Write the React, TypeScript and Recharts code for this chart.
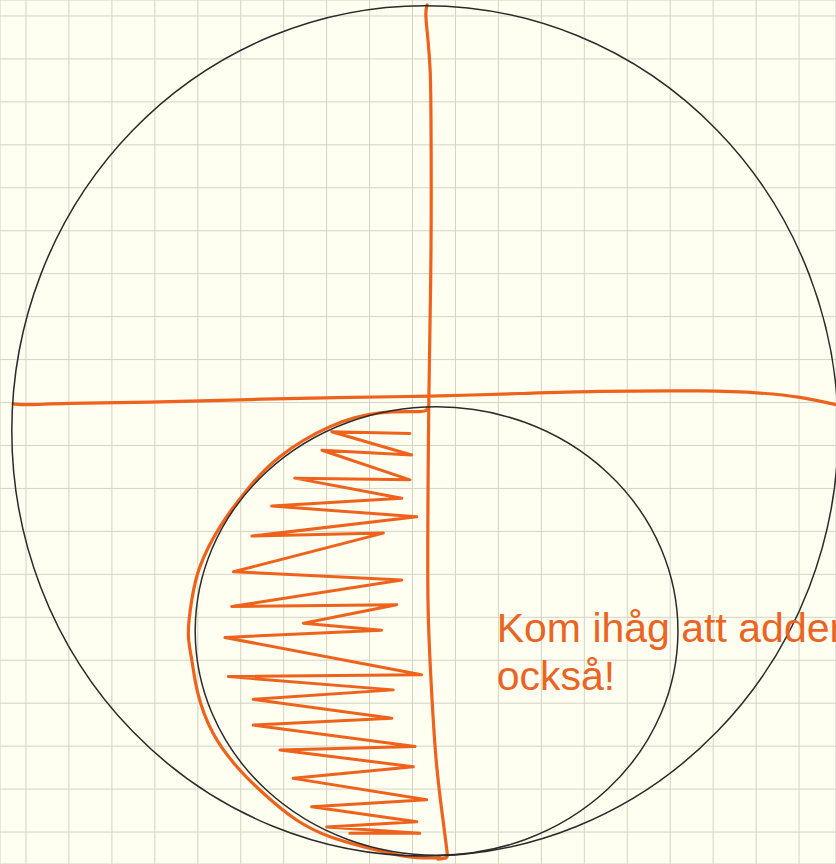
import React from 'react';
import {
  CartesianGrid,
  ComposedChart,
  Line,
  ReferenceDot,
  Scatter,
  XAxis,
  YAxis,
} from 'recharts';

// coordinates are in squares of the paper grid, y grows downwards
const W = 836;
const H = 864;
const X_MIN = -0.605;
const X_MAX = 18.86;
const Y_MIN = -0.372;
const Y_MAX = 19.744;

const gridX = [0, 1, 2, 3, 4, 5, 6, 7, 8, 9, 10, 11, 12, 13, 14, 15, 16, 17, 18];
const gridY = [0, 1, 2, 3, 4, 5, 6, 7, 8, 9, 10, 11, 12, 13, 14, 15, 16, 17, 18, 19];

// two drawn circles: centre and radii
const ringX = [9.29, 9.56];
const ringY = [9.66, 14.32];
const ringRx = [9.62, 5.62];
const ringRy = [9.9, 5.22];

const upright: [number, number][] = [
  [9.34, -0.26], [9.31, -0.02], [9.36, 0.56], [9.41, 1.26], [9.43, 2.42],
  [9.43, 5.45], [9.38, 8.94], [9.36, 11.27], [9.36, 13.6], [9.43, 15.46],
  [9.55, 17.32], [9.71, 18.72], [9.8, 19.42], [9.78, 19.6], [9.59, 19.63],
];

const across: [number, number][] = [
  [-0.3, 9.03], [0.09, 9.05], [1.02, 9.02], [2.89, 8.99], [5.22, 8.93],
  [7.54, 8.88], [9.41, 8.85], [11.5, 8.79], [13.36, 8.74], [15.69, 8.73],
  [17.09, 8.78], [18.02, 8.88], [18.86, 9.05],
];

const halfMoon: [number, number][] = [
  [9.34, 9.13], [9.17, 9.21], [8.24, 9.24], [7.08, 9.56], [5.91, 10.26],
  [5.14, 11.04], [4.52, 11.89], [4.05, 12.82], [3.86, 13.6], [3.78, 14.37],
  [3.86, 14.99], [4.0, 15.76], [4.35, 16.69], [4.91, 17.48], [5.52, 18.09],
  [6.3, 18.72], [7.08, 19.11], [7.85, 19.34], [8.86, 19.57], [9.64, 19.6],
];

const scribble: [number, number][] = [
  [8.94, 9.72], [7.12, 9.68], [8.98, 10.22], [6.89, 10.11], [8.94, 10.8],
  [6.26, 10.76], [8.75, 11.23], [5.72, 11.41], [9.1, 11.66], [5.26, 12.11],
  [8.32, 12.04], [4.83, 12.94], [8.75, 13.13], [4.79, 13.75], [8.63, 13.71],
  [6.46, 14.14], [8.28, 14.3], [4.63, 14.47], [9.21, 15.34], [4.71, 15.38],
  [8.55, 15.69], [5.29, 15.91], [8.52, 16.35], [5.29, 16.51], [9.06, 17.01],
  [5.91, 17.09], [9.02, 17.48], [6.22, 17.75], [9.33, 18.25], [6.65, 18.41],
  [9.1, 18.76], [7.0, 18.88], [9.17, 19.03], [7.54, 19.03],
];

const noteLines = ['Kom ihåg att addera', 'också!'];
const notePos = { x: 10.96, y: 14.57 };

const PX_X = W / (X_MAX - X_MIN);
const PX_Y = H / (Y_MAX - Y_MIN);
const ORANGE = '#EF621C';

const toRows = (pts: [number, number][]) => pts.map(([x, y]) => ({ x, y }));

const rings = ringX.map((x, i) => ({ x, y: ringY[i], rx: ringRx[i], ry: ringRy[i] }));

const Ring = (props: any) => (
  <ellipse
    cx={props.cx}
    cy={props.cy}
    rx={props.payload.rx * PX_X}
    ry={props.payload.ry * PX_Y}
    fill="none"
    stroke="#2a2a2a"
    strokeWidth={1.5}
  />
);

const Note = ({ viewBox }: any) => (
  <text
    x={viewBox.x}
    y={viewBox.y}
    fill="#EA6523"
    fontSize={41}
    fontFamily="'Liberation Sans', Arial, sans-serif"
  >
    <tspan x={viewBox.x}>{noteLines[0]}</tspan>
    <tspan x={viewBox.x} dy={48}>
      {noteLines[1]}
    </tspan>
  </text>
);

const stroke = {
  stroke: ORANGE,
  strokeWidth: 3.2,
  dot: false,
  activeDot: false,
  isAnimationActive: false,
  strokeLinecap: 'round' as const,
  strokeLinejoin: 'round' as const,
};

export default function App() {
  return (
    <div style={{ position: 'absolute', left: 0, top: 0, width: W, height: H, background: '#FEFEF1' }}>
      <ComposedChart width={W} height={H} margin={{ top: 0, right: 0, bottom: 0, left: 0 }}>
        <CartesianGrid stroke="#d3d3c6" strokeWidth={1} fill="#FEFEF1" />
        <XAxis
          type="number"
          dataKey="x"
          domain={[X_MIN, X_MAX]}
          ticks={gridX}
          interval={0}
          allowDataOverflow
          hide
        />
        <YAxis
          type="number"
          dataKey="y"
          domain={[Y_MIN, Y_MAX]}
          ticks={gridY}
          interval={0}
          reversed
          allowDataOverflow
          hide
        />
        <Scatter data={rings} dataKey="y" shape={Ring} isAnimationActive={false} />
        <Line data={toRows(across)} dataKey="y" type="natural" {...stroke} />
        <Line data={toRows(upright)} dataKey="y" type="natural" {...stroke} />
        <Line data={toRows(halfMoon)} dataKey="y" type="natural" {...stroke} />
        <Line data={toRows(scribble)} dataKey="y" type="linear" {...stroke} strokeWidth={3} />
        <ReferenceDot x={notePos.x} y={notePos.y} r={0} fill="none" stroke="none" label={Note} />
      </ComposedChart>
    </div>
  );
}
